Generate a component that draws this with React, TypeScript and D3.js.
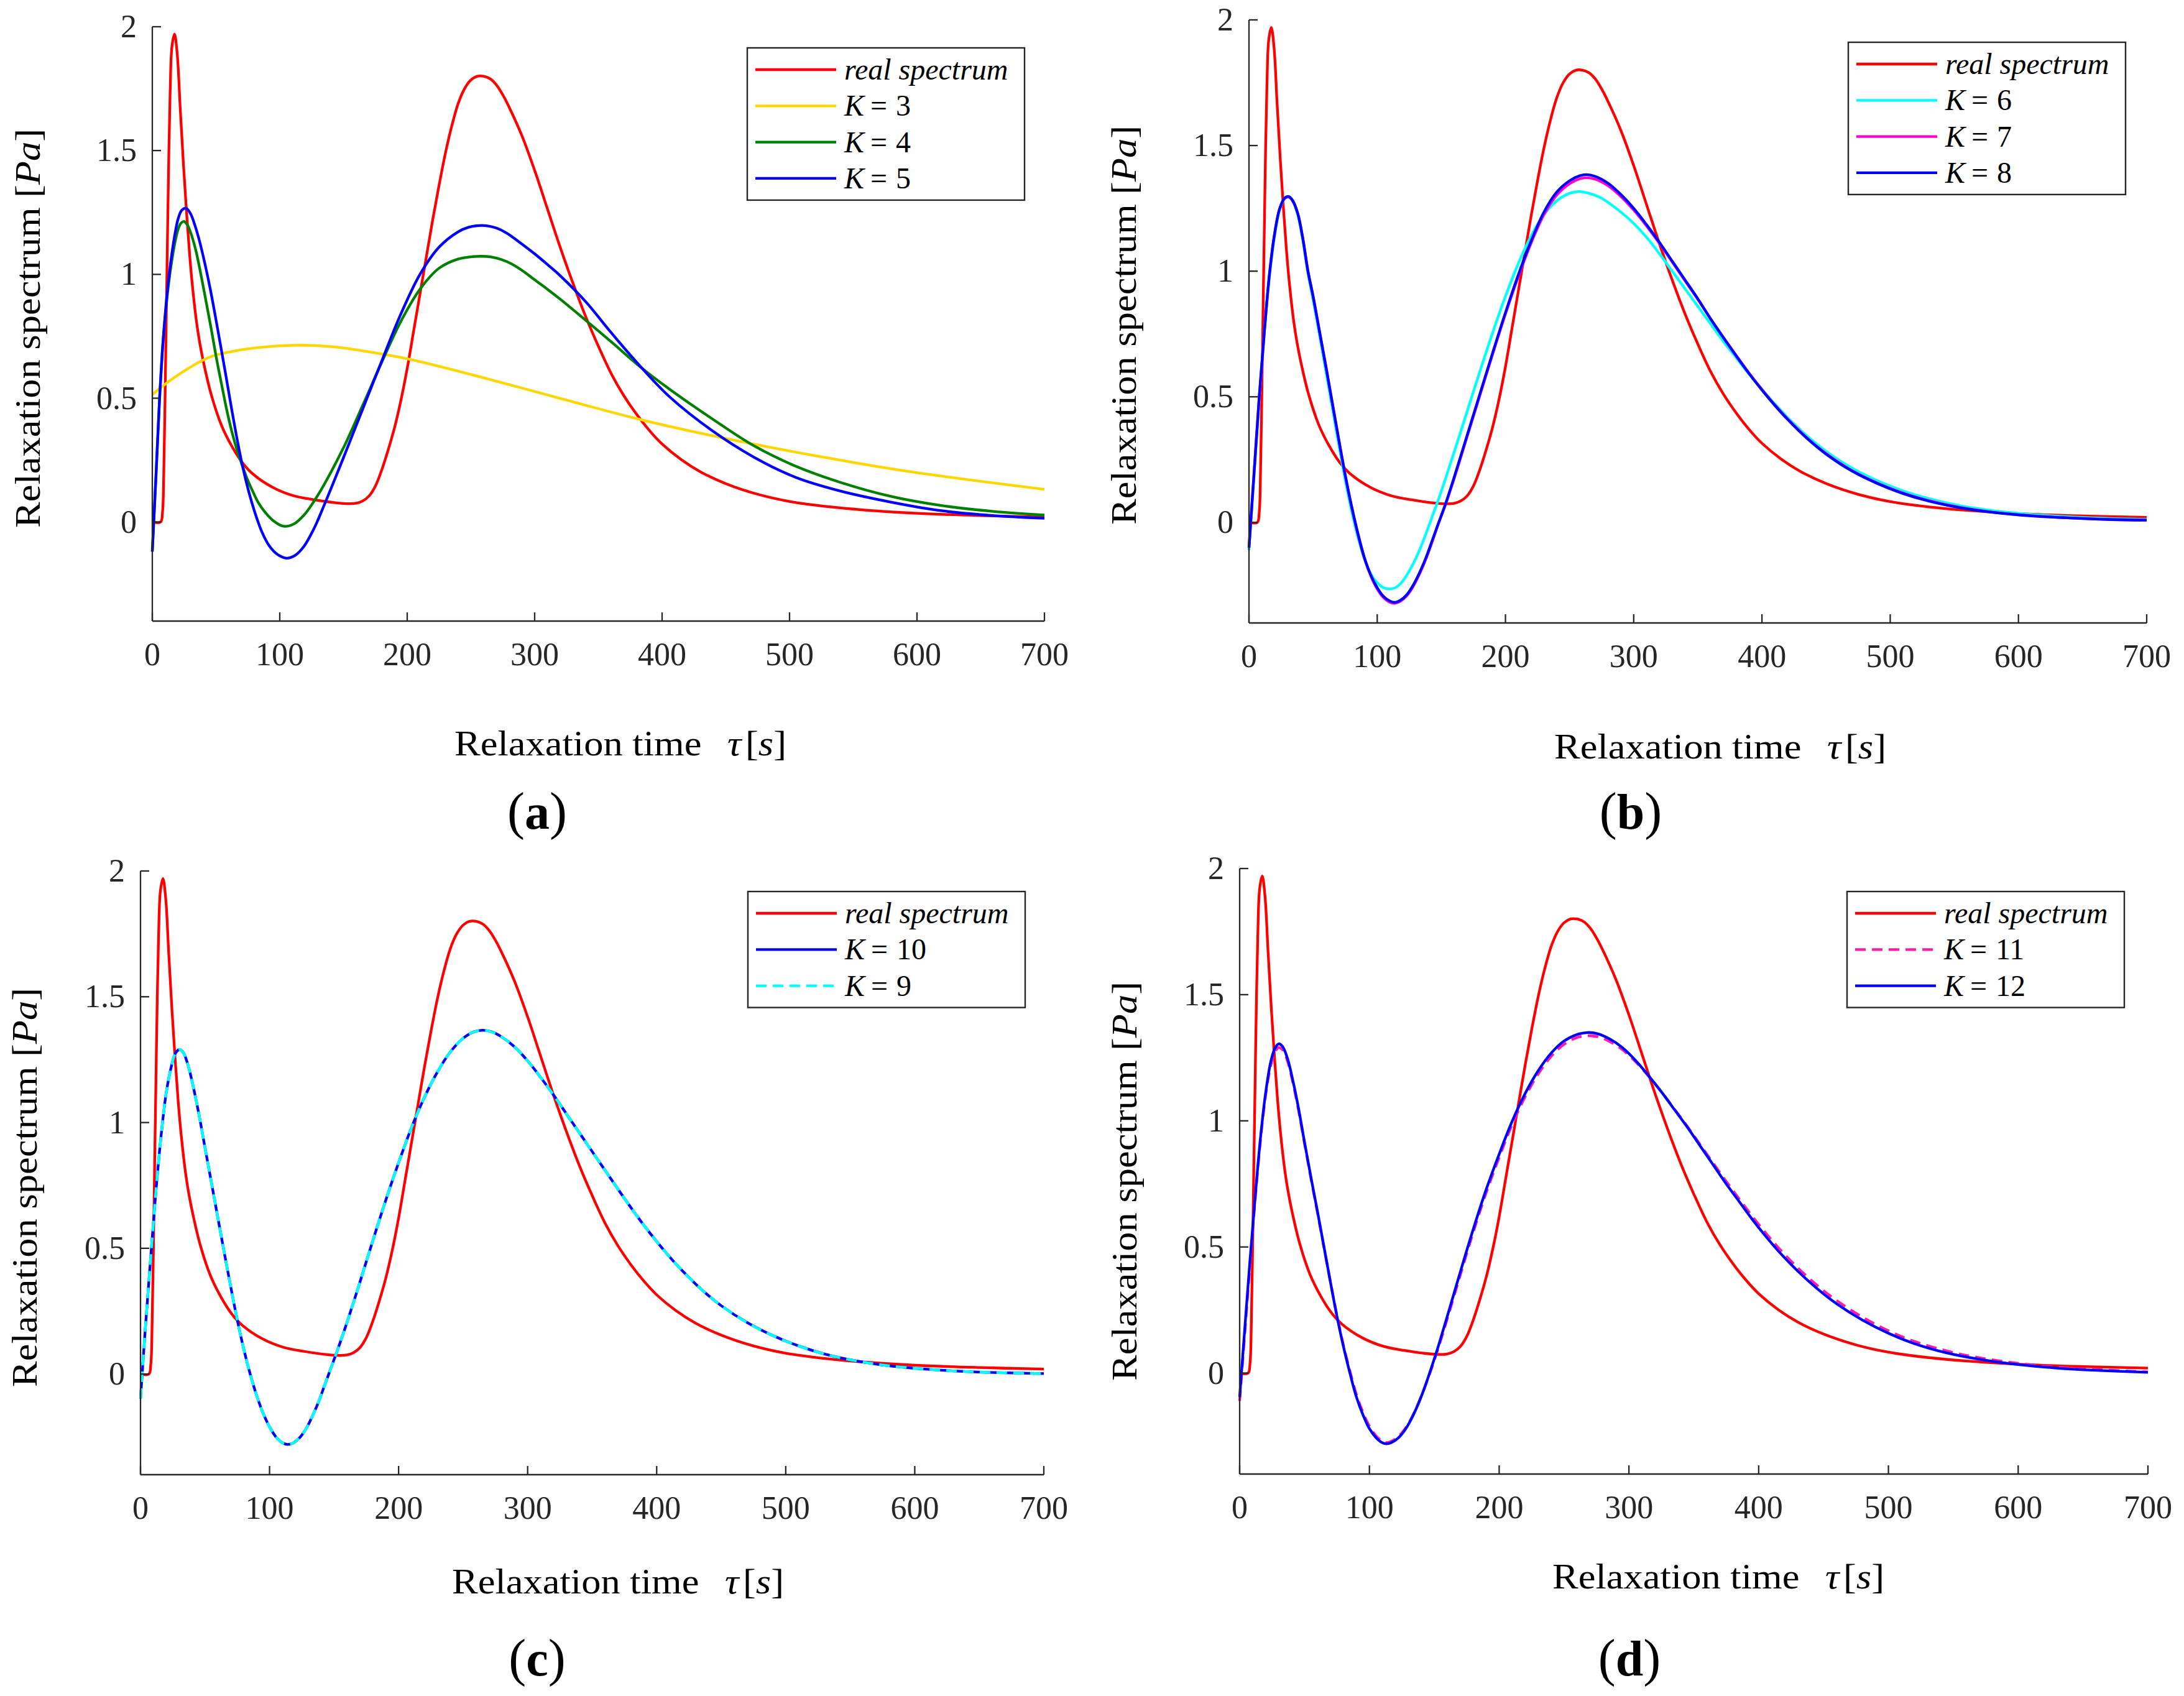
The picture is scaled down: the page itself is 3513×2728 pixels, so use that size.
import React, { useEffect } from 'react';
import * as d3 from 'd3';

type Pt = [number, number];

// ---------- axis ticks ----------
const xTicks = [0, 100, 200, 300, 400, 500, 600, 700];
const yTicks = [0, 0.5, 1, 1.5, 2];
const yTickLabels = ['0', '0.5', '1', '1.5', '2'];
const xDomain: Pt = [0, 700];
const yDomain: Pt = [-0.4, 2];

// ---------- data (tau [s], value [Pa]) ----------
const realSpectrum: Pt[] = [
  [0, 0], [6.5, 0], [8, 0.04], [9, 0.2], [10, 0.5], [11, 0.85], [12, 1.18], [13, 1.5], [14, 1.74],
  [15.4, 1.92], [17.4, 1.97], [19.5, 1.893], [21.9, 1.67], [24.3, 1.455], [26.8, 1.255], [29.2, 1.085],
  [31.6, 0.947], [34.9, 0.8], [37.5, 0.715], [40.6, 0.635], [46.2, 0.515], [54.3, 0.39], [62.4, 0.306],
  [70.6, 0.24], [78.7, 0.195], [94.9, 0.139], [111, 0.106], [127, 0.09], [143.5, 0.078], [155, 0.074],
  [160, 0.076], [165, 0.085], [170, 0.105], [175, 0.145], [180, 0.21], [185, 0.29], [190, 0.38], [195, 0.49],
  [200, 0.62], [205, 0.77], [210, 0.92], [215, 1.07], [220, 1.22], [225, 1.36], [230, 1.49], [235, 1.6],
  [240, 1.69], [245, 1.75], [250, 1.785], [255, 1.8], [260, 1.8], [265, 1.79], [270, 1.765], [275, 1.725],
  [280, 1.675], [290, 1.56], [300, 1.42], [310, 1.265], [320, 1.11], [330, 0.965], [340, 0.83], [350, 0.71],
  [360, 0.6], [370, 0.51], [380, 0.435], [390, 0.37], [400, 0.315], [415, 0.252], [430, 0.203], [450, 0.155],
  [475, 0.112], [500, 0.083], [530, 0.062], [560, 0.048], [600, 0.035], [650, 0.026], [700, 0.02],
];

const k3: Pt[] = [
  [0, 0.515], [13.8, 0.571], [30, 0.626], [46.2, 0.668], [70.6, 0.696], [95, 0.71], [116, 0.714],
  [143.5, 0.707], [176, 0.682], [202, 0.657], [258, 0.585], [323.8, 0.494], [386, 0.41], [455, 0.332],
  [521, 0.267], [587, 0.209], [700, 0.132],
];

const k4: Pt[] = [
  [0, -0.118], [3, 0.2], [5.7, 0.5], [8, 0.7], [10.5, 0.85], [13, 0.97], [15.4, 1.058], [18, 1.135],
  [20.3, 1.183], [22.5, 1.207], [24.8, 1.214], [27.5, 1.2], [30, 1.17], [34, 1.1], [38.1, 1.0], [42, 0.895],
  [46.2, 0.78], [50, 0.67], [54.3, 0.557], [58.3, 0.455], [62.4, 0.365], [66.5, 0.29], [70.6, 0.228],
  [74.6, 0.172], [78.7, 0.125], [83, 0.08], [88.4, 0.04], [95, 0.005], [103, -0.017], [111, -0.008],
  [119, 0.028], [127, 0.085], [135, 0.153], [150, 0.3], [165, 0.47], [180, 0.645], [195, 0.81], [210, 0.94],
  [225, 1.025], [240, 1.062], [250, 1.071], [258, 1.073], [266, 1.07], [274, 1.06], [282, 1.042],
  [291, 1.013], [300, 0.978], [310, 0.94], [320, 0.9], [340, 0.815], [360, 0.728], [383, 0.626],
  [406, 0.536], [439, 0.418], [472, 0.308], [505, 0.225], [540, 0.16], [580, 0.103], [620, 0.066],
  [660, 0.043], [700, 0.028],
];

const k5: Pt[] = [
  [0, -0.12], [3, 0.2], [5.7, 0.5], [8, 0.7], [10.5, 0.863], [13, 0.99], [15.4, 1.086], [18, 1.17],
  [20.3, 1.225], [23, 1.258], [26.4, 1.267], [30, 1.245], [33.3, 1.2], [37, 1.135], [41.4, 1.04],
  [45.5, 0.94], [49.5, 0.83], [53.5, 0.715], [57.6, 0.595], [61.6, 0.475], [65.7, 0.357], [70, 0.245],
  [73.8, 0.16], [78, 0.08], [82, 0.015], [86, -0.04], [91.6, -0.095], [98, -0.13], [105.4, -0.146],
  [112, -0.135], [119, -0.098], [127, -0.025], [135, 0.07], [150, 0.26], [165, 0.455], [180, 0.65],
  [195, 0.84], [210, 1.0], [225, 1.11], [240, 1.172], [248, 1.19], [256, 1.197], [263, 1.196],
  [270, 1.187], [278, 1.167], [287, 1.134], [300, 1.083], [310, 1.04], [320, 0.995], [340, 0.89],
  [360, 0.765], [383, 0.628], [406, 0.505], [439, 0.37], [472, 0.262], [505, 0.18], [540, 0.125],
  [580, 0.08], [620, 0.045], [660, 0.026], [700, 0.015],
];

const k6: Pt[] = [
  [0, -0.11], [4, 0.19], [8, 0.49], [12, 0.76], [16, 0.98], [20, 1.14], [24, 1.245], [28, 1.29], [31, 1.295],
  [34, 1.28], [38, 1.225], [42, 1.12], [46, 0.99], [50, 0.885], [55, 0.745], [60, 0.6], [65, 0.455],
  [70, 0.31], [75, 0.17], [80, 0.045], [85, -0.06], [90, -0.145], [95, -0.205], [100, -0.24], [105, -0.26],
  [110, -0.265], [114, -0.26], [118, -0.245], [123, -0.21], [128, -0.165], [133, -0.11], [138, -0.045],
  [143, 0.025], [148, 0.095], [153, 0.17], [160, 0.28], [170, 0.44], [180, 0.6], [190, 0.755], [200, 0.9],
  [210, 1.03], [220, 1.14], [230, 1.225], [240, 1.28], [250, 1.31], [257, 1.317], [265, 1.31], [275, 1.29],
  [290, 1.235], [300, 1.19], [310, 1.135], [320, 1.07], [330, 1.0], [340, 0.93], [350, 0.86], [360, 0.79],
  [370, 0.72], [380, 0.655], [390, 0.59], [400, 0.53], [410, 0.472], [420, 0.418], [435, 0.345],
  [450, 0.283], [470, 0.217], [490, 0.166], [510, 0.126], [530, 0.095], [555, 0.066], [580, 0.047],
  [610, 0.032], [640, 0.022], [670, 0.016], [700, 0.012],
];

const k7: Pt[] = [
  [0, -0.1], [4, 0.2], [8, 0.5], [12, 0.76], [16, 0.99], [20, 1.15], [24, 1.25], [28, 1.29], [31, 1.295],
  [34, 1.28], [38, 1.23], [42, 1.13], [46, 1.0], [50, 0.9], [55, 0.76], [60, 0.62], [65, 0.475], [70, 0.33],
  [75, 0.19], [80, 0.063], [85, -0.048], [90, -0.143], [95, -0.213], [100, -0.265], [105, -0.3],
  [110, -0.318], [114, -0.322], [118, -0.314], [123, -0.292], [128, -0.255], [133, -0.205], [138, -0.145],
  [143, -0.075], [148, 0.0], [153, 0.068], [160, 0.175], [170, 0.34], [180, 0.505], [190, 0.67], [200, 0.83],
  [210, 0.978], [220, 1.112], [230, 1.225], [240, 1.303], [250, 1.348], [258, 1.368], [263, 1.372],
  [270, 1.366], [280, 1.34], [290, 1.297], [300, 1.243], [310, 1.18], [320, 1.111], [330, 1.037],
  [340, 0.962], [350, 0.888], [360, 0.81], [370, 0.736], [380, 0.664], [390, 0.594], [400, 0.529],
  [410, 0.468], [420, 0.412], [435, 0.337], [450, 0.274], [470, 0.207], [490, 0.157], [510, 0.117],
  [530, 0.087], [555, 0.059], [580, 0.041], [610, 0.027], [640, 0.018], [670, 0.012], [700, 0.009],
];

const k8: Pt[] = [
  [0, -0.1], [4, 0.2], [8, 0.5], [12, 0.76], [16, 0.99], [20, 1.15], [24, 1.25], [28, 1.292], [31, 1.297],
  [34, 1.282], [38, 1.23], [42, 1.13], [46, 1.0], [50, 0.9], [55, 0.76], [60, 0.62], [65, 0.475], [70, 0.33],
  [75, 0.19], [80, 0.065], [85, -0.045], [90, -0.14], [95, -0.21], [100, -0.26], [105, -0.295],
  [110, -0.313], [114, -0.318], [118, -0.31], [123, -0.288], [128, -0.25], [133, -0.2], [138, -0.14],
  [143, -0.07], [148, 0.0], [153, 0.07], [160, 0.18], [170, 0.345], [180, 0.51], [190, 0.675], [200, 0.835],
  [210, 0.985], [220, 1.12], [230, 1.235], [240, 1.315], [250, 1.36], [258, 1.38], [263, 1.384],
  [270, 1.377], [280, 1.35], [290, 1.305], [300, 1.25], [310, 1.185], [320, 1.115], [330, 1.04],
  [340, 0.965], [350, 0.89], [360, 0.81], [370, 0.735], [380, 0.662], [390, 0.592], [400, 0.527],
  [410, 0.466], [420, 0.41], [435, 0.335], [450, 0.272], [470, 0.205], [490, 0.155], [510, 0.115],
  [530, 0.085], [555, 0.058], [580, 0.04], [610, 0.026], [640, 0.018], [670, 0.012], [700, 0.009],
];

const k9: Pt[] = [
  [0, -0.098], [4, 0.2], [8, 0.47], [12, 0.73], [16, 0.95], [20, 1.12], [24, 1.225], [27, 1.275], [30, 1.29],
  [33, 1.28], [37, 1.225], [41, 1.14], [45, 1.04], [50, 0.9], [55, 0.76], [60, 0.62], [65, 0.48], [70, 0.345],
  [75, 0.215], [80, 0.1], [85, 0.0], [90, -0.085], [95, -0.155], [100, -0.21], [105, -0.25], [110, -0.273],
  [114, -0.28], [118, -0.275], [123, -0.255], [128, -0.22], [133, -0.17], [138, -0.11], [143, -0.04],
  [148, 0.03], [153, 0.1], [160, 0.205], [170, 0.365], [180, 0.53], [190, 0.69], [200, 0.84], [210, 0.98],
  [220, 1.1], [230, 1.2], [240, 1.28], [250, 1.335], [258, 1.36], [265, 1.366], [272, 1.36], [280, 1.34],
  [290, 1.3], [300, 1.245], [310, 1.18], [320, 1.11], [330, 1.035], [340, 0.96], [350, 0.885], [360, 0.81],
  [370, 0.735], [380, 0.662], [390, 0.592], [400, 0.527], [410, 0.466], [420, 0.41], [435, 0.335],
  [450, 0.272], [470, 0.205], [490, 0.153], [510, 0.112], [530, 0.08], [555, 0.052], [580, 0.033],
  [610, 0.019], [640, 0.01], [670, 0.005], [700, 0.002],
];

const k10: Pt[] = [
  [0, -0.098], [4, 0.2], [8, 0.47], [12, 0.73], [16, 0.95], [20, 1.12], [24, 1.225], [27, 1.275], [30, 1.29],
  [33, 1.28], [37, 1.225], [41, 1.14], [45, 1.04], [50, 0.9], [55, 0.76], [60, 0.62], [65, 0.48], [70, 0.345],
  [75, 0.215], [80, 0.1], [85, 0.0], [90, -0.085], [95, -0.155], [100, -0.21], [105, -0.25], [110, -0.273],
  [114, -0.28], [118, -0.275], [123, -0.255], [128, -0.22], [133, -0.17], [138, -0.11], [143, -0.04],
  [148, 0.03], [153, 0.1], [160, 0.205], [170, 0.365], [180, 0.53], [190, 0.69], [200, 0.84], [210, 0.98],
  [220, 1.1], [230, 1.2], [240, 1.28], [250, 1.335], [258, 1.36], [265, 1.367], [272, 1.361], [280, 1.34],
  [290, 1.3], [300, 1.245], [310, 1.18], [320, 1.11], [330, 1.035], [340, 0.96], [350, 0.885], [360, 0.81],
  [370, 0.735], [380, 0.662], [390, 0.592], [400, 0.527], [410, 0.466], [420, 0.41], [435, 0.335],
  [450, 0.272], [470, 0.205], [490, 0.153], [510, 0.112], [530, 0.08], [555, 0.052], [580, 0.033],
  [610, 0.019], [640, 0.01], [670, 0.005], [700, 0.002],
];

const k11: Pt[] = [
  [0, -0.11], [4, 0.16], [8, 0.43], [12, 0.69], [16, 0.92], [20, 1.1], [24, 1.22], [27, 1.27], [30, 1.29],
  [33, 1.282], [37, 1.235], [41, 1.152], [45, 1.052], [50, 0.91], [55, 0.77], [60, 0.635], [65, 0.497],
  [70, 0.36], [75, 0.228], [80, 0.11], [85, 0.008], [90, -0.085], [95, -0.155], [100, -0.21], [105, -0.248],
  [110, -0.27], [113, -0.275], [117, -0.27], [122, -0.253], [127, -0.224], [132, -0.182], [137, -0.128],
  [142, -0.065], [148, 0.02], [153, 0.098], [160, 0.215], [170, 0.388], [180, 0.558], [190, 0.715],
  [200, 0.855], [210, 0.985], [220, 1.095], [230, 1.185], [240, 1.255], [250, 1.303], [260, 1.33],
  [268, 1.337], [276, 1.333], [285, 1.315], [295, 1.282], [305, 1.235], [315, 1.178], [325, 1.115],
  [335, 1.047], [345, 0.978], [355, 0.905], [365, 0.832], [375, 0.76], [385, 0.69], [395, 0.622],
  [405, 0.558], [415, 0.498], [430, 0.418], [445, 0.348], [460, 0.288], [480, 0.222], [500, 0.168],
  [520, 0.126], [545, 0.088], [570, 0.061], [600, 0.039], [630, 0.024], [660, 0.014], [700, 0.005],
];

const k12: Pt[] = [
  [0, -0.095], [4, 0.18], [8, 0.45], [12, 0.7], [16, 0.93], [20, 1.11], [24, 1.235], [27, 1.285], [30, 1.305],
  [33, 1.295], [37, 1.245], [41, 1.16], [45, 1.06], [50, 0.915], [55, 0.775], [60, 0.64], [65, 0.5],
  [70, 0.36], [75, 0.225], [80, 0.105], [85, 0.0], [90, -0.095], [95, -0.165], [100, -0.22], [105, -0.255],
  [110, -0.276], [113, -0.28], [117, -0.275], [122, -0.258], [127, -0.228], [132, -0.185], [137, -0.13],
  [142, -0.065], [148, 0.025], [153, 0.105], [160, 0.225], [170, 0.4], [180, 0.57], [190, 0.728],
  [200, 0.868], [210, 0.998], [220, 1.108], [230, 1.198], [240, 1.268], [250, 1.316], [260, 1.342],
  [268, 1.35], [276, 1.345], [285, 1.325], [295, 1.29], [305, 1.24], [315, 1.18], [325, 1.115],
  [335, 1.045], [345, 0.975], [355, 0.9], [365, 0.825], [375, 0.75], [385, 0.68], [395, 0.61],
  [405, 0.545], [415, 0.485], [430, 0.405], [445, 0.335], [460, 0.275], [480, 0.21], [500, 0.158],
  [520, 0.117], [545, 0.08], [570, 0.055], [600, 0.034], [630, 0.02], [660, 0.011], [700, 0.003],
];

// ---------- styling ----------
const FONT = '"Liberation Serif", "Times New Roman", serif';
const AXIS = '#262626';
const LW = 4.3;

type Series = { label: string; k?: string; data: Pt[]; color: string; dash?: string };

const RED: Series = { label: 'real spectrum', data: realSpectrum, color: '#ff0000' };

type Panel = {
  x0: number; x1: number; yTop: number; yBot: number;
  lx: number; ly: number;
  ylx: number; yly: number;
  xlx: number; xly: number;
  sx: number; sy: number; sub: string;
  draw: Series[];
  legend: Series[];
};

const s3: Series = { label: 'K', k: '3', data: k3, color: '#ffd700' };
const s4: Series = { label: 'K', k: '4', data: k4, color: '#008000' };
const s5: Series = { label: 'K', k: '5', data: k5, color: '#0000ff' };
const s6: Series = { label: 'K', k: '6', data: k6, color: '#00ffff' };
const s7: Series = { label: 'K', k: '7', data: k7, color: '#ff00d0' };
const s8: Series = { label: 'K', k: '8', data: k8, color: '#0000ff' };
const s9: Series = { label: 'K', k: '9', data: k9, color: '#00ffff', dash: '17 10' };
const s10: Series = { label: 'K', k: '10', data: k10, color: '#0000ff' };
const s11: Series = { label: 'K', k: '11', data: k11, color: '#ff1aa8', dash: '17 10' };
const s12: Series = { label: 'K', k: '12', data: k12, color: '#0000ff' };

const panels: Panel[] = [
  { x0: 245, x1: 1680, yTop: 43, yBot: 999, lx: 1202, ly: 77, ylx: 45, yly: 528, xlx: 731, xly: 1215,
    sx: 864, sy: 1333, sub: 'a', draw: [RED, s3, s4, s5], legend: [RED, s3, s4, s5] },
  { x0: 2009, x1: 3453, yTop: 32, yBot: 1002, lx: 2973, ly: 68, ylx: 1808, yly: 523, xlx: 2500, xly: 1220,
    sx: 2623, sy: 1333, sub: 'b', draw: [RED, s6, s7, s8], legend: [RED, s6, s7, s8] },
  { x0: 226, x1: 1679, yTop: 1401, yBot: 2372, lx: 1203, ly: 1434, ylx: 40, yly: 1910, xlx: 727, xly: 2563,
    sx: 864, sy: 2695, sub: 'c', draw: [RED, s10, s9], legend: [RED, s10, s9] },
  { x0: 1994, x1: 3455, yTop: 1397, yBot: 2371, lx: 2971, ly: 1434, ylx: 1809, yly: 1900, xlx: 2497, xly: 2555,
    sx: 2621, sy: 2695, sub: 'd', draw: [RED, s11, s12], legend: [RED, s11, s12] },
];

const LEG_W = 446;
const LEG_PAD = 35;
const LEG_ROW = 58.3;

function PanelView({ p }: { p: Panel }) {
  const xs = d3.scaleLinear().domain(xDomain).range([p.x0, p.x1]);
  const ys = d3.scaleLinear().domain(yDomain).range([p.yBot, p.yTop]);
  const line = d3
    .line<Pt>()
    .x((d) => xs(d[0]))
    .y((d) => ys(d[1]))
    .curve(d3.curveCatmullRom.alpha(0.5));
  const legH = LEG_PAD * 2 + (p.legend.length - 1) * LEG_ROW;
  const tick = 14;
  return (
    <g>
      {p.draw.map((s, i) => (
        <path key={i} d={line(s.data) || ''} fill="none" stroke={s.color} strokeWidth={LW}
          strokeDasharray={s.dash} strokeLinejoin="round" />
      ))}
      {/* axes */}
      <line x1={xs(0)} x2={xs(0)} y1={ys(yDomain[0])} y2={ys(2)} stroke={AXIS} strokeWidth={2.3} />
      <line x1={xs(0)} x2={xs(700)} y1={ys(yDomain[0])} y2={ys(yDomain[0])} stroke={AXIS} strokeWidth={2.3} />
      {xTicks.map((t) => (
        <g key={'x' + t}>
          <line x1={xs(t)} x2={xs(t)} y1={p.yBot} y2={p.yBot - tick} stroke={AXIS} strokeWidth={2.3} />
          <text x={xs(t)} y={p.yBot + 71} textAnchor="middle" fontFamily={FONT} fontSize={52} fill={AXIS}>{t}</text>
        </g>
      ))}
      {yTicks.map((t, i) => (
        <g key={'y' + t}>
          <line x1={p.x0} x2={p.x0 + tick} y1={ys(t)} y2={ys(t)} stroke={AXIS} strokeWidth={2.3} />
          <text x={p.x0 - 25} y={ys(t) + 17} textAnchor="end" fontFamily={FONT} fontSize={52} fill={AXIS}>{yTickLabels[i]}</text>
        </g>
      ))}
      {/* axis labels */}
      <text x={p.xlx} y={p.xly} fontFamily={FONT} fontSize={57} fill="#000" textLength={534} lengthAdjust="spacingAndGlyphs">
        <tspan>Relaxation time</tspan>
        <tspan dx={38} fontStyle="italic">τ</tspan>
        <tspan dx={6}>[</tspan>
        <tspan fontStyle="italic">s</tspan>
        <tspan>]</tspan>
      </text>
      <text transform={`translate(${p.ylx},${p.yly}) rotate(-90)`} x={0} y={0} dy="0.33em" textAnchor="middle"
        fontFamily={FONT} fontSize={57} fill="#000" textLength={642} lengthAdjust="spacingAndGlyphs">
        <tspan>Relaxation spectrum</tspan>
        <tspan dx={14}>[</tspan>
        <tspan fontStyle="italic">Pa</tspan>
        <tspan>]</tspan>
      </text>
      {/* subfigure label */}
      <text x={p.sx} y={p.sy} textAnchor="middle" fontFamily={FONT} fill="#000">
        <tspan fontSize={84}>(</tspan>
        <tspan fontSize={80} fontWeight="bold">{p.sub}</tspan>
        <tspan fontSize={84}>)</tspan>
      </text>
      {/* legend */}
      <rect x={p.lx} y={p.ly} width={LEG_W} height={legH} fill="#fff" stroke={AXIS} strokeWidth={2.4} />
      {p.legend.map((s, i) => {
        const yy = p.ly + LEG_PAD + i * LEG_ROW;
        return (
          <g key={'l' + i}>
            <line x1={p.lx + 13} x2={p.lx + 143} y1={yy} y2={yy} stroke={s.color} strokeWidth={LW}
              strokeDasharray={s.dash} />
            {s.k ? (
              <text x={p.lx + 156} y={yy + 16} fontFamily={FONT} fontSize={48} fill="#000">
                <tspan fontStyle="italic">K</tspan>
                <tspan dx={10}>=</tspan>
                <tspan dx={14}>{s.k}</tspan>
              </text>
            ) : (
              <text x={p.lx + 156} y={yy + 16} fontFamily={FONT} fontSize={48} fontStyle="italic" fill="#000">
                {s.label}
              </text>
            )}
          </g>
        );
      })}
    </g>
  );
}

export default function App() {
  useEffect(() => {
    document.body.style.margin = '0';
    document.body.style.background = '#fff';
  }, []);
  return (
    <svg width={3513} height={2728} viewBox="0 0 3513 2728" style={{ display: 'block', background: '#fff' }}>
      <rect x={0} y={0} width={3513} height={2728} fill="#fff" />
      {panels.map((p, i) => (
        <PanelView key={i} p={p} />
      ))}
    </svg>
  );
}
